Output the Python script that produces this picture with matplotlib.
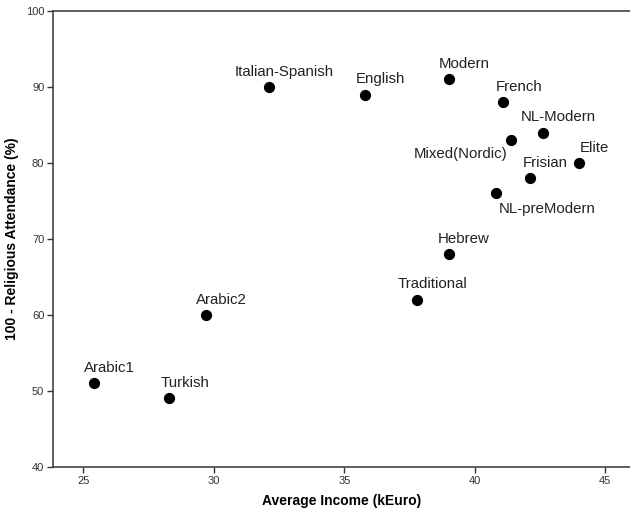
import matplotlib
matplotlib.use("Agg")
import matplotlib.pyplot as plt

plt.rcParams["font.family"] = ["Liberation Sans", "DejaVu Sans"]

groups = ["Italian-Spanish", "English", "Modern", "French", "NL-Modern",
          "Mixed(Nordic)", "Elite", "Frisian", "NL-preModern", "Hebrew",
          "Traditional", "Arabic2", "Arabic1", "Turkish"]
income = [32.1, 35.8, 39.0, 41.1, 42.6, 41.4, 44.0, 42.1, 40.8, 39.0,
          37.8, 29.7, 25.4, 28.3]
secular = [90, 89, 91, 88, 84, 83, 80, 78, 76, 68, 62, 60, 51, 49]

x_ticks = [25, 30, 35, 40, 45]
y_ticks = [40, 50, 60, 70, 80, 90, 100]


def main() -> None:
    fig = plt.figure(figsize=(6.3, 5.14), dpi=100)
    ax = fig.add_axes([0.0846, 0.092, 0.9154, 0.8866])

    ax.scatter(income, secular, s=50, color="black", zorder=3)

    for name, x, y in zip(groups, income, secular):
        if name == "Mixed(Nordic)":
            off, ha, va = (-3, -10), "right", "center"
        elif name == "NL-preModern":
            off, ha, va = (2, -11), "left", "center"
        else:
            off, ha, va = (11, 11), "center", "center"
        ax.annotate(name, (x, y), xytext=off, textcoords="offset points",
                    ha=ha, va=va, fontsize=10.8, color="#222222")

    ax.set_xlim(23.85, 45.95)
    ax.set_ylim(40, 100)
    ax.set_xticks(x_ticks)
    ax.set_yticks(y_ticks)
    ax.tick_params(direction="out", length=4.5, width=1, color="#333333",
                   labelsize=8, labelcolor="#333333", pad=2)

    for side in ["left", "bottom", "top"]:
        ax.spines[side].set_color("#444444")
        ax.spines[side].set_linewidth(1.2)
    ax.spines["right"].set_visible(False)

    ax.set_xlabel("Average Income (kEuro)", fontsize=10, fontweight="bold",
                  labelpad=6)
    ax.set_ylabel("100 - Religious Attendance (%)", fontsize=10,
                  fontweight="bold", labelpad=5)

    fig.savefig("out.png", dpi=100)
    plt.close()


if __name__ == "__main__":
    main()
